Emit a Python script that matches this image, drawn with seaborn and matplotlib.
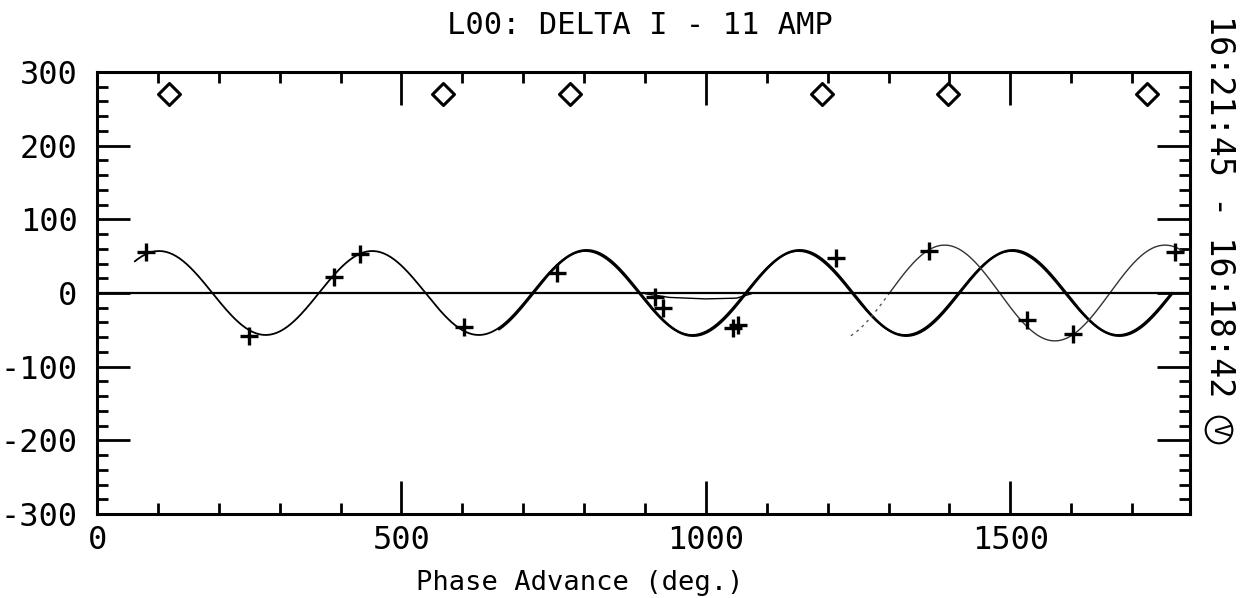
import numpy as np
import pandas as pd
import matplotlib
matplotlib.use("Agg")
import matplotlib.pyplot as plt
from matplotlib.ticker import MultipleLocator
import seaborn as sns

# ---- data ----
title_text = "L00: DELTA I - 11 AMP"
xlabel_text = "Phase Advance (deg.)"
side_text = "16:21:45 - 16:18:42"

# measured points (plus markers)
meas_x = [80, 250, 390, 432, 603, 755, 916, 929, 1045, 1052, 1213, 1366, 1527, 1603, 1771]
meas_y = [55, -58, 22, 53, -46, 27, -5, -20, -47, -44, 47, 57, -37, -56, 56]

# diamond markers along the top
diam_x = [119, 569, 777, 1190, 1397, 1725]
diam_y = [270, 270, 270, 270, 270, 270]

# sine fits: amplitude, period (deg), position of a crest (deg), x-range
fit_names = ["fit_a", "fit_b", "fit_c"]
fit_amp = [57, 58, 65]
fit_period = [350, 350, 362]
fit_crest = [102, 104, 1392]
fit_start = [62, 660, 1300]
fit_end = [1765, 1765, 1785]
fit_lw = [1.3, 1.8, 1.0]
fit_color = ["black", "black", "#333333"]

# dotted lead-in of fit_c
lead_start, lead_end = 1238, 1300

# small flat trace near zero
trace_x = [900, 940, 1000, 1050, 1075]
trace_y = [-1, -6, -8, -7, -1]

ytick_vals = [-300, -200, -100, 0, 100, 200, 300]
xtick_vals = [0, 500, 1000, 1500]

# ---- figure ----
sns.set_theme(style="white")
plt.rcParams["font.family"] = ["DejaVu Sans Mono", "DejaVu Sans"]

fig = plt.figure(figsize=(12.43, 5.98), dpi=100)
ax = fig.add_axes([97/1243, 1-514/598, (1190-97)/1243, (514-72)/598])

def sine_frame(i, x0, x1):
    xs = np.linspace(x0, x1, 600)
    ys = fit_amp[i] * np.cos(2*np.pi*(xs - fit_crest[i]) / fit_period[i])
    return pd.DataFrame({"x": xs, "y": ys})

for i in range(len(fit_names)):
    df = sine_frame(i, fit_start[i], fit_end[i])
    sns.lineplot(data=df, x="x", y="y", ax=ax, color=fit_color[i],
                 lw=fit_lw[i], sort=False, estimator=None)

df_lead = sine_frame(2, lead_start, lead_end)
sns.lineplot(data=df_lead, x="x", y="y", ax=ax, color="#555555", lw=1.0,
             linestyle=(0, (2, 3)), sort=False, estimator=None)

sns.lineplot(x=trace_x, y=trace_y, ax=ax, color="black", lw=1.0,
             sort=False, estimator=None)

ax.axhline(0, color="black", lw=1.6)

sns.scatterplot(x=meas_x, y=meas_y, ax=ax, marker="+", s=150,
                color="black", linewidth=2.4, zorder=5)
sns.scatterplot(x=diam_x, y=diam_y, ax=ax, marker="D", s=125,
                facecolor="white", edgecolor="black", linewidth=2.2, zorder=5)

ax.set_xlim(0, 1795)
ax.set_ylim(-300, 300)
ax.set_xlabel("")
ax.set_ylabel("")

ax.xaxis.set_minor_locator(MultipleLocator(100))
ax.yaxis.set_minor_locator(MultipleLocator(20))
ax.set_yticks(ytick_vals)
ax.set_yticklabels([str(v) for v in ytick_vals])
ax.set_xticks(xtick_vals)
ax.set_xticklabels([str(v) for v in xtick_vals])

ax.tick_params(which="both", direction="in", top=True, right=True,
               bottom=True, left=True, colors="black")
ax.tick_params(which="major", length=24, width=2.0, labelsize=23)
ax.tick_params(axis="y", which="major", pad=14)
ax.tick_params(axis="x", which="major", pad=8)
ax.tick_params(which="minor", length=8, width=2.0)

for sp in ax.spines.values():
    sp.set_visible(True)
    sp.set_color("black")
    sp.set_linewidth(2.2)

fig.text(640/1243, 1-25/598, title_text, ha="center", va="center",
         fontsize=22, color="black")
fig.text(580/1243, 1-583/598, xlabel_text, ha="center", va="center",
         fontsize=19.5, color="black")
fig.text(1219/1243, 1-206/598, side_text, ha="center", va="center",
         rotation=-90, fontsize=24, color="black")
fig.text(1219/1243, 1-430/598, "V", ha="center", va="center", rotation=-90,
         fontsize=16, color="black",
         bbox=dict(boxstyle="circle,pad=0.15", fc="none", ec="black", lw=1.5))

fig.savefig("out.png", dpi=100, facecolor="white")
